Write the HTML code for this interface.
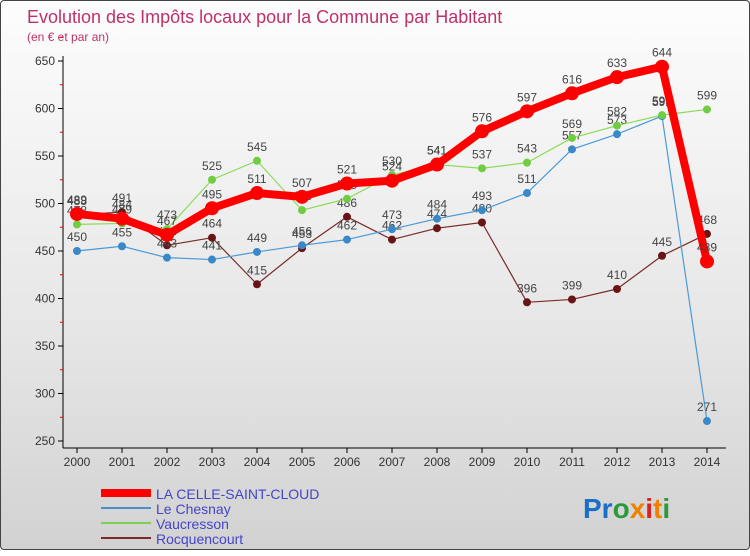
<!DOCTYPE html>
<html><head><meta charset="utf-8"><style>
body{margin:0;width:750px;height:550px;overflow:hidden;font-family:"Liberation Sans",sans-serif}
#wrap{position:absolute;left:0;top:0;width:748px;height:548px;border:1px solid #444;border-radius:4px;background:linear-gradient(#fdfdfd,#e6e6e6 60%,#d2d2d2)}
</style></head><body>
<div id="wrap">
<svg id="chart" width="750" height="550">
<text x="26" y="22" font-size="18" fill="#c0306a">Evolution des Impôts locaux pour la Commune par Habitant</text>
<text x="26" y="40" font-size="12" fill="#c0306a">(en € et par an)</text>
<g id="axes"></g><g id="series"></g>
<g>
<line x1="100" y1="492" x2="150" y2="492" stroke="#f00" stroke-width="8"/>
<text x="155" y="498" font-size="14" fill="#44c">LA CELLE-SAINT-CLOUD</text>
<line x1="100" y1="507" x2="150" y2="507" stroke="#4a90c8" stroke-width="2"/>
<text x="155" y="513" font-size="14" fill="#44c">Le Chesnay</text>
<line x1="100" y1="522" x2="150" y2="522" stroke="#80d050" stroke-width="2"/>
<text x="155" y="528" font-size="14" fill="#44c">Vaucresson</text>
<line x1="100" y1="537" x2="150" y2="537" stroke="#7a2a2a" stroke-width="2"/>
<text x="155" y="543" font-size="14" fill="#44c">Rocquencourt</text>
</g>
<text x="582" y="517" font-size="28" font-weight="bold"><tspan fill="#1a6fc8">Pr</tspan><tspan fill="#2a9a3a">o</tspan><tspan fill="#f08000">x</tspan><tspan fill="#e02020">i</tspan><tspan fill="#f08000">t</tspan><tspan fill="#2a9a3a">i</tspan></text>
</svg></div>
<script>
const years=[2000,2001,2002,2003,2004,2005,2006,2007,2008,2009,2010,2011,2012,2013,2014];
const yTicks=[250,300,350,400,450,500,550,600,650];
const celle=[489,484,467,495,511,507,521,524,541,576,597,616,633,644,439];
const chesnay=[450,455,443,441,449,456,462,473,484,493,511,557,573,592,271];
const vaucresson=[478,479,473,525,545,493,505,530,541,537,543,569,582,593,599];
const rocq=[488,491,456,464,415,453,486,462,474,480,396,399,410,445,468];
const NS="http://www.w3.org/2000/svg";
const X=i=>76+i*45, Y=v=>60+(650-v)*0.95;
function mk(p,t,a){const e=document.createElementNS(NS,t);for(const k in a)e.setAttribute(k,a[k]);p.appendChild(e);return e;}
const ax=document.getElementById('axes');
const ya=mk(ax,'line',{x1:62,y1:55,x2:62,y2:447,stroke:'#000'});


const xa=mk(ax,'line',{x1:62,y1:447,x2:725,y2:447,stroke:'#000'});


yTicks.forEach(v=>{
 mk(ax,'line',{x1:57,y1:Y(v),x2:62,y2:Y(v),stroke:'#000'});
 mk(ax,'line',{x1:59,y1:Y(v)-23.75,x2:62,y2:Y(v)-23.75,stroke:'#e00'});
 const t=mk(ax,'text',{x:54,y:Y(v)+4,'font-size':12,'text-anchor':'end',fill:'#333'});t.textContent=v;
 
 
});
years.forEach((yr,i)=>{
 mk(ax,'line',{x1:X(i),y1:447,x2:X(i),y2:452,stroke:'#000'});
 const t=mk(ax,'text',{x:X(i),y:465,'font-size':12,'text-anchor':'middle',fill:'#333'});t.textContent=yr;
 
 
});
const sg=document.getElementById('series');
function series(d,col,w,r,dot,name){
 const g=mk(sg,'g',{});
 
 
 const pl=mk(g,'polyline',{points:d.map((v,i)=>X(i)+','+Y(v)).join(' '),fill:'none',stroke:col,'stroke-width':w,'stroke-linejoin':'round'});
 
 
 d.forEach((v,i)=>{
  const c=mk(g,'circle',{cx:X(i),cy:Y(v),r:r,fill:dot});
  
  
  const t=mk(g,'text',{x:X(i),y:Y(v)-10,'font-size':12,'text-anchor':'middle',fill:'#444'});t.textContent=v;
  
  
 });
}
series(rocq,'#7a2a2a',1.2,4,'#6a1515','rocquencourt');
series(chesnay,'#4a9ad8',1.2,4,'#3a88c8','le-chesnay');
series(vaucresson,'#88dd55',1.2,4,'#70cc40','vaucresson');
series(celle,'#f00',8,7,'#f00','la-celle');
</script>
</body></html>
